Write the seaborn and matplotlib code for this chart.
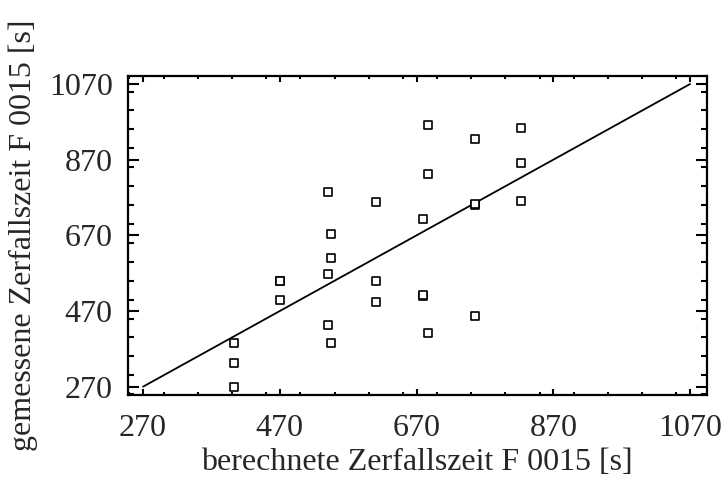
import matplotlib
matplotlib.use("Agg")
import matplotlib.pyplot as plt
from matplotlib.ticker import MultipleLocator, FixedLocator
import seaborn as sns
import pandas as pd

# computed vs. measured decay times (s)
berechnet = [403, 403, 403,
             470, 470, 470,
             540, 540, 540, 545, 545, 545,
             611, 611, 611,
             680, 680, 680, 686, 686, 686,
             756, 756, 756, 756,
             822, 822, 822]
gemessen = [385, 332, 269,
            548, 550, 499,
            784, 567, 432, 673, 611, 385,
            759, 548, 495,
            712, 510, 512, 961, 831, 413,
            924, 750, 752, 457,
            953, 860, 761]

diag = [270, 1070]
ticks = [270, 470, 670, 870, 1070]

df = pd.DataFrame({"berechnet": berechnet, "gemessen": gemessen})

sns.set_style("ticks")
plt.rcParams["font.family"] = ["Liberation Serif", "DejaVu Serif"]

fig = plt.figure(figsize=(7.25, 4.79), dpi=100)
ax = fig.add_axes([0.1766, 0.1754, 0.9745 - 0.1766, 0.842 - 0.1754])

sns.lineplot(x=diag, y=diag, ax=ax, color="black", linewidth=1.3,
             estimator=None, sort=False)
sns.scatterplot(data=df, x="berechnet", y="gemessen", ax=ax, marker="s",
                s=30, facecolor="white", edgecolor="black", linewidth=1.2,
                zorder=3)

ax.set_xlim(248, 1094)
ax.set_ylim(248, 1092)
ax.xaxis.set_major_locator(FixedLocator(ticks))
ax.yaxis.set_major_locator(FixedLocator(ticks))
ax.xaxis.set_minor_locator(MultipleLocator(50))
ax.yaxis.set_minor_locator(MultipleLocator(50))

for s in ax.spines.values():
    s.set_linewidth(1.6)
    s.set_color("black")

ax.tick_params(axis="x", which="major", direction="in", top=True, bottom=True,
               length=4.5, width=1.5, labelsize=23, pad=14, color="black")
ax.tick_params(axis="x", which="minor", direction="in", top=True, bottom=True,
               length=2.2, width=1.5, color="black")
ax.tick_params(axis="y", which="major", direction="in", left=True, right=True,
               length=8, width=1.5, labelsize=23, pad=11, color="black")
ax.tick_params(axis="y", which="minor", direction="in", left=True, right=True,
               length=4, width=1.5, color="black")

ax.set_xlabel("berechnete Zerfallszeit F 0015 [s]", fontsize=23, labelpad=3)
ax.set_ylabel("gemessene Zerfallszeit F 0015 [s]", fontsize=23, labelpad=8)

fig.savefig("out.png", dpi=100)
